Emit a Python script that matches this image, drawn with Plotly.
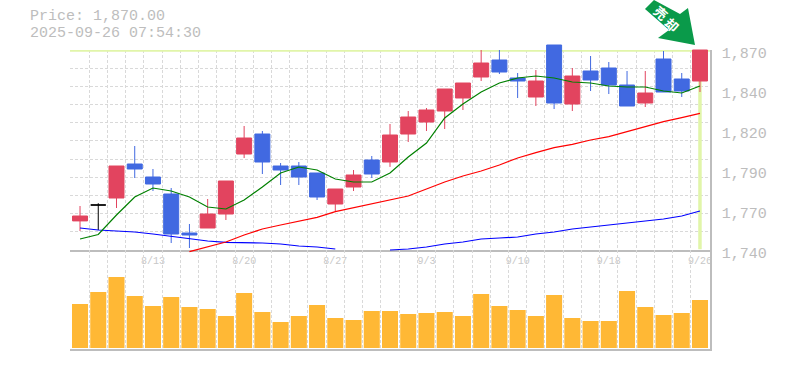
import plotly.graph_objects as go

W, H = 785, 370

dates = ["8/6","8/7","8/8","8/12","8/13","8/14","8/15","8/18","8/19","8/20","8/21","8/22","8/25","8/26","8/27",
         "8/28","8/29","9/1","9/2","9/3","9/4","9/5","9/8","9/9","9/10","9/11","9/12","9/16","9/17","9/18",
         "9/19","9/22","9/24","9/25","9/26"]
opens = [1758.9,1769.25,1773.8,1795.9,1787.45,1776.4,1751.05,1754.3,1763.4,1802.4,1815.4,1794.6,1794.6,1790.05,1769.9,
         1780.95,1798.5,1797.2,1815.4,1823.2,1830.35,1838.8,1852.45,1863.5,1851.8,1839.45,1873.25,1834.9,1856.35,1858.3,
         1847.25,1835.55,1864.15,1851.15,1849.85]
highs = [1768.6,1770.4,1794.6,1807.6,1792.65,1780.3,1756.9,1773.15,1784.85,1820.6,1817.35,1796.55,1797.2,1790.05,1779.65,
         1792.0,1801.1,1821.9,1830.35,1832.3,1844.65,1848.55,1870.0,1870.0,1855.05,1857.0,1873.25,1858.3,1866.1,1862.2,
         1856.35,1856.35,1869.35,1855.05,1870.0]
lows = [1752.35,1753.0,1767.3,1786.8,1778.35,1744.55,1741.3,1754.3,1759.5,1799.8,1789.4,1782.25,1782.25,1772.5,1765.35,
        1778.35,1786.8,1794.0,1810.2,1817.35,1818.65,1831.0,1849.85,1854.4,1838.8,1833.6,1831.65,1830.35,1843.35,1841.4,
        1833.6,1832.95,1842.7,1839.45,1842.7]
closes = [1762.1,1769.25,1794.6,1792.65,1782.9,1750.4,1749.75,1763.4,1784.85,1812.8,1797.2,1792.0,1787.45,1774.45,1779.65,
          1788.75,1789.4,1814.75,1826.45,1831.0,1844.65,1848.55,1861.55,1855.7,1849.85,1849.85,1835.55,1853.1,1850.5,1847.25,
          1833.6,1842.05,1842.7,1843.35,1870.0]
ma_short = [1747.15,1750.1,1762.75,1774.45,1780.3,1778.35,1774.45,1767.95,1766.65,1772.5,1780.95,1790.05,1793.95,1792.0,1786.15,
            1784.2,1784.2,1790.05,1800.45,1809.55,1825.8,1834.9,1842.7,1848.55,1851.8,1853.1,1851.8,1849.2,1848.55,1846.6,
            1845.95,1845.95,1843.35,1842.05,1846.6]
ma_mid = [None,None,None,None,None,None,1738.9,1742.0,1745.2,1749.75,1753.65,1756.25,1758.85,1761.25,1764.9,
          1767.5,1770.35,1772.5,1775.1,1779.65,1784.2,1788.1,1791.35,1795.25,1799.8,1803.25,1806.5,1808.7,1811.5,1813.65,
          1816.9,1820.15,1823.4,1826.0,1828.85]
ma_long = [1754.3,1753.0,1752.35,1751.7,1750.4,1748.8,1747.15,1745.85,1745.0,1745.0,1744.55,1743.9,1742.6,1741.95,1740.65,
           None,None,1740.0,1740.65,1741.95,1743.9,1745.2,1747.15,1747.8,1748.45,1750.4,1751.7,1753.65,1754.95,1756.25,
           1757.55,1758.85,1760.15,1762.1,1765.35]
volumes = [44,56,71,52,42,51,41,39,32,55,36,26,32,43,30,28,37,37,34,35,36,32,54,42,38,32,53,30,27,27,57,41,33,35,48]

price_tick_vals = [1870, 1844, 1818, 1792, 1766, 1740]
price_tick_text = ["1,870", "1,840", "1,820", "1,790", "1,770", "1,740"]
date_tick_idx = [4, 9, 14, 19, 24, 29, 34]
last_price = 1870
title_lines = ["Price: 1,870.00", "2025-09-26 07:54:30"]
badge_glyphs = ["売", "却"]

RED, BLUE = "#e2445f", "#4169e1"
GREY = "#bdbdbd"
GRID = "#d9d9d9"
GUIDE = "#e1f5a9"
ARROW = "#0a9a4a"
MONO = "Liberation Mono"

xs = list(range(len(dates)))
normal = [i for i in xs if opens[i] != closes[i]]
doji = [i for i in xs if opens[i] == closes[i]]
x_range = [-0.55, 34.55]

fig = go.Figure()
# guide lines for last price, in the base subplot so they sit under everything else
fig.add_trace(go.Scatter(x=[x_range[0], x_range[1], None, xs[-1], xs[-1]],
                         y=[last_price, last_price, None, last_price, 1740.5],
                         xaxis="x", yaxis="y", mode="lines", line=dict(color=GUIDE, width=3.5),
                         cliponaxis=False, connectgaps=False, showlegend=False, hoverinfo="skip"))
for series, color in ((ma_long, "#0000ff"), (ma_mid, "#ff0000"), (ma_short, "#008000")):
    fig.add_trace(go.Scatter(x=xs, y=series, xaxis="x3", yaxis="y3", mode="lines",
                             line=dict(color=color, width=1.2), showlegend=False))
fig.add_trace(go.Candlestick(x=normal,
                             open=[opens[i] for i in normal], high=[highs[i] for i in normal],
                             low=[lows[i] for i in normal], close=[closes[i] for i in normal],
                             xaxis="x3", yaxis="y3", whiskerwidth=0, showlegend=False,
                             increasing=dict(line=dict(color=RED, width=1), fillcolor=RED),
                             decreasing=dict(line=dict(color=BLUE, width=1), fillcolor=BLUE)))
fig.add_trace(go.Candlestick(x=doji,
                             open=[opens[i] for i in doji], high=[highs[i] for i in doji],
                             low=[lows[i] for i in doji], close=[closes[i] for i in doji],
                             xaxis="x3", yaxis="y3", whiskerwidth=0, showlegend=False,
                             increasing=dict(line=dict(color="#000000", width=1), fillcolor="#000000"),
                             decreasing=dict(line=dict(color="#000000", width=1), fillcolor="#000000")))
fig.add_trace(go.Bar(x=xs, y=volumes, xaxis="x2", yaxis="y2", marker=dict(color="#ffb835", line=dict(width=0)),
                     showlegend=False))


def px_x(v):
    return v / W


def px_y(v):
    return 1 - v / H


arrow_pts = [(645, 9), (654, 0), (680, 14), (688, 8), (695, 45), (658, 38), (669, 30)]
arrow_path = "M" + " L".join(f"{px_x(a):.5f},{px_y(b):.5f}" for a, b in arrow_pts) + " Z"

minor_x = dict(showgrid=True, griddash="3px,2px", gridcolor=GRID, gridwidth=1, tick0=-0.5, dtick=1, ticklen=0)
annos = [dict(text=t, xref="paper", yref="paper", x=px_x(28), y=px_y(yy), xanchor="left", yanchor="middle",
              showarrow=False, font=dict(family=MONO, size=15, color=GREY))
         for t, yy in zip(title_lines, (16, 33.2))]
annos += [dict(text=g, xref="paper", yref="paper", x=px_x(gx), y=px_y(gy), xanchor="center", yanchor="middle",
               showarrow=False, textangle=42,
               font=dict(family="Noto Sans CJK JP", size=13, color="#ffffff", weight=700))
          for g, gx, gy in zip(badge_glyphs, (661, 672), (12, 24))]

fig.update_layout(
    width=W, height=H, autosize=False, margin=dict(l=0, r=0, t=0, b=0, autoexpand=False),
    paper_bgcolor="#ffffff", plot_bgcolor="rgba(0,0,0,0)", showlegend=False, bargap=0.12,
    boxgap=0.178, boxgroupgap=0, dragmode=False,
    xaxis=dict(domain=[70 / W, 710 / W], range=x_range, anchor="y", tickmode="array", tickvals=date_tick_idx,
               ticktext=[dates[i] for i in date_tick_idx], tickfont=dict(family=MONO, size=10, color="#c8c8c8"),
               ticklen=0, showgrid=False, zeroline=False, showline=True, linecolor=GREY, linewidth=1.5,
               ticklabelstandoff=0, minor=minor_x, rangeslider=dict(visible=False)),
    yaxis=dict(domain=[(H - 250) / H, (H - 50) / H], range=[1740, 1870], anchor="x", side="right", tickmode="array",
               tickvals=price_tick_vals, ticktext=price_tick_text, tickfont=dict(family=MONO, size=15, color=GREY),
               ticklen=0, showgrid=False, zeroline=False, showline=True, linecolor=GREY, linewidth=1.5,
               ticklabelstandoff=7, ticklabelshift=3,
               minor=dict(showgrid=True, griddash="3px,2px", gridcolor=GRID, gridwidth=1, tick0=1740,
                          dtick=130 / 11, ticklen=0)),
    xaxis2=dict(domain=[70 / W, 710 / W], range=x_range, anchor="y2", showticklabels=False, ticklen=0,
                showgrid=False, zeroline=False, showline=True, linecolor=GREY, linewidth=1.5, minor=minor_x),
    yaxis2=dict(domain=[(H - 349) / H, (H - 250) / H], range=[-1, 98], anchor="x2", side="right", showticklabels=False,
                ticklen=0, showgrid=False, zeroline=False, showline=True, linecolor=GREY, linewidth=1.5),
    xaxis3=dict(domain=[70 / W, 710 / W], range=x_range, anchor="y3", visible=False,
                rangeslider=dict(visible=False)),
    yaxis3=dict(domain=[(H - 254) / H, (H - 44) / H], range=[1737.4, 1873.9], anchor="x3", visible=False),
    shapes=[dict(type="path", xref="paper", yref="paper", path=arrow_path, fillcolor=ARROW, line=dict(width=0))],
    annotations=annos,
)

fig.write_html("out.html", config={"displayModeBar": False},
               post_script="document.body.style.margin='0';document.body.style.overflow='hidden';")
